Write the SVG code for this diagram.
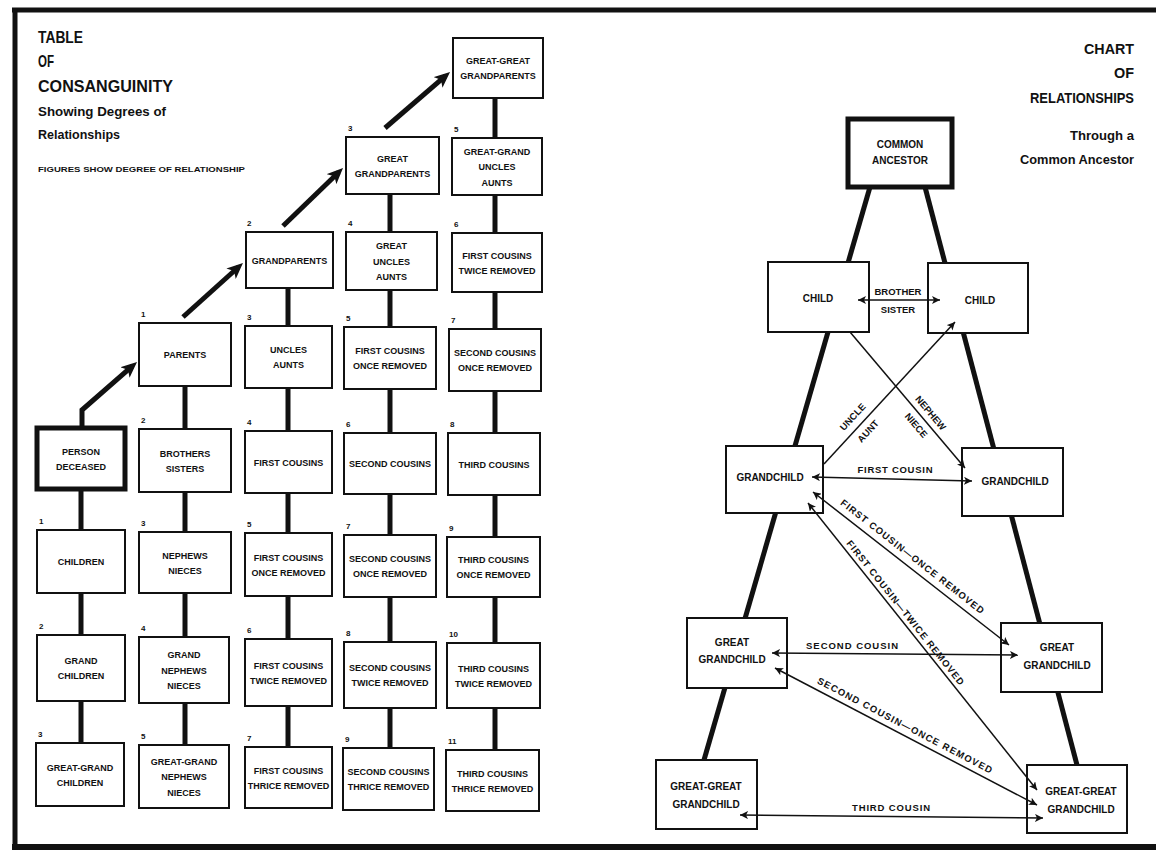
<svg xmlns="http://www.w3.org/2000/svg" width="1156" height="859" viewBox="0 0 1156 859">
<defs>
<style>
.box{fill:#fff;stroke:#111;stroke-width:2}
.heavy{stroke-width:5}
.t{font-family:"Liberation Sans",Arial,sans-serif;font-weight:bold;font-size:9px;text-anchor:middle;fill:#111}
.r{font-size:10px}
.lb{font-size:9.5px}
.n{font-size:8px;text-anchor:start}
.h{font-family:"Liberation Sans",Arial,sans-serif;font-weight:bold;fill:#111}
.bar{stroke:#111;stroke-width:5;fill:none}
.rel{stroke:#111;stroke-width:1.5;fill:none}
.frame{stroke:#111;fill:none}
</style>
<marker id="big" markerUnits="userSpaceOnUse" markerWidth="16" markerHeight="14" refX="10" refY="7" orient="auto">
<path d="M0,0 L16,7 L0,14 L4,7 z" fill="#111"/>
</marker>
<marker id="sm" markerUnits="userSpaceOnUse" markerWidth="8" markerHeight="8" refX="8" refY="4" orient="auto-start-reverse">
<path d="M0,0 L8,4 L0,8 L2,4 z" fill="#111"/>
</marker>
</defs>
<rect x="0" y="0" width="1156" height="859" fill="#fff"/>
<g id="frame">
<line class="frame" x1="12" y1="10" x2="1156" y2="10" stroke-width="5"/>
<line class="frame" x1="15" y1="8" x2="15" y2="850" stroke-width="5"/>
<line class="frame" x1="12" y1="847" x2="1156" y2="847" stroke-width="6"/>
</g>
<g id="titles">
<text class="h" x="38" y="43" font-size="17" textLength="45" lengthAdjust="spacingAndGlyphs">TABLE</text>
<text class="h" x="38" y="67" font-size="17" textLength="16" lengthAdjust="spacingAndGlyphs">OF</text>
<text class="h" x="38" y="92" font-size="17" textLength="135" lengthAdjust="spacingAndGlyphs">CONSANGUINITY</text>
<text class="h" x="38" y="116" font-size="13.5" textLength="128" lengthAdjust="spacingAndGlyphs">Showing Degrees of</text>
<text class="h" x="38" y="139" font-size="13.5" textLength="82" lengthAdjust="spacingAndGlyphs">Relationships</text>
<text class="h" x="38" y="172" font-size="7.5" textLength="207" lengthAdjust="spacingAndGlyphs">FIGURES SHOW DEGREE OF RELATIONSHIP</text>
<text class="h" x="1134" y="54" font-size="15" text-anchor="end" textLength="50" lengthAdjust="spacingAndGlyphs">CHART</text>
<text class="h" x="1134" y="78" font-size="15" text-anchor="end" textLength="20" lengthAdjust="spacingAndGlyphs">OF</text>
<text class="h" x="1134" y="103" font-size="15" text-anchor="end" textLength="104" lengthAdjust="spacingAndGlyphs">RELATIONSHIPS</text>
<text class="h" x="1134" y="140" font-size="13" text-anchor="end" textLength="64" lengthAdjust="spacingAndGlyphs">Through a</text>
<text class="h" x="1134" y="164" font-size="13" text-anchor="end" textLength="114" lengthAdjust="spacingAndGlyphs">Common Ancestor</text>
</g>
<g id="connectors">
<line class="bar" x1="81" y1="489" x2="81" y2="530"/>
<line class="bar" x1="81" y1="593" x2="81" y2="635"/>
<line class="bar" x1="81" y1="701" x2="81" y2="743"/>
<line class="bar" x1="185" y1="386" x2="185" y2="429"/>
<line class="bar" x1="185" y1="492" x2="185" y2="532"/>
<line class="bar" x1="185" y1="593" x2="185" y2="637"/>
<line class="bar" x1="185" y1="703" x2="185" y2="745"/>
<line class="bar" x1="288" y1="288" x2="288" y2="326"/>
<line class="bar" x1="288" y1="388" x2="288" y2="431"/>
<line class="bar" x1="288" y1="493" x2="288" y2="533"/>
<line class="bar" x1="288" y1="596" x2="288" y2="639"/>
<line class="bar" x1="288" y1="706" x2="288" y2="747"/>
<line class="bar" x1="390" y1="194" x2="390" y2="232"/>
<line class="bar" x1="390" y1="290" x2="390" y2="327"/>
<line class="bar" x1="390" y1="389" x2="390" y2="433"/>
<line class="bar" x1="390" y1="494" x2="390" y2="535"/>
<line class="bar" x1="390" y1="597" x2="390" y2="642"/>
<line class="bar" x1="390" y1="708" x2="390" y2="748"/>
<line class="bar" x1="495" y1="98" x2="495" y2="138"/>
<line class="bar" x1="495" y1="195" x2="495" y2="233"/>
<line class="bar" x1="495" y1="292" x2="495" y2="329"/>
<line class="bar" x1="495" y1="391" x2="495" y2="433"/>
<line class="bar" x1="495" y1="495" x2="495" y2="537"/>
<line class="bar" x1="495" y1="597" x2="495" y2="643"/>
<line class="bar" x1="495" y1="708" x2="495" y2="750"/>
<polyline class="bar" points="82,428 82,410 132.5,365.9" marker-end="url(#big)"/>
<line class="bar" x1="183" y1="317" x2="238.5" y2="267" marker-end="url(#big)"/>
<line class="bar" x1="283" y1="226" x2="338.7" y2="172.2" marker-end="url(#big)"/>
<line class="bar" x1="385" y1="128" x2="445.5" y2="75.9" marker-end="url(#big)"/>
<line class="bar" x1="870" y1="187" x2="704" y2="760" stroke-width="5.5"/>
<line class="bar" x1="925" y1="187" x2="1077" y2="765" stroke-width="5.5"/>
</g>
<g id="table-nodes">
<g id="n-person"><rect class="box heavy" x="37" y="428" width="88" height="61"/><text class="t" x="81" y="454.5">PERSON</text><text class="t" x="81" y="469.5">DECEASED</text></g>
<g id="n-children"><text class="t n" x="39" y="524">1</text><rect class="box" x="37" y="530" width="88" height="63"/><text class="t" x="81" y="565">CHILDREN</text></g>
<g id="n-grandchildren"><text class="t n" x="39" y="629">2</text><rect class="box" x="37" y="635" width="88" height="66"/><text class="t" x="81" y="664">GRAND</text><text class="t" x="81" y="679">CHILDREN</text></g>
<g id="n-ggchildren"><text class="t n" x="38" y="737">3</text><rect class="box" x="36" y="743" width="88" height="63"/><text class="t" x="80" y="770.5">GREAT-GRAND</text><text class="t" x="80" y="785.5">CHILDREN</text></g>

<g id="n-parents"><text class="t n" x="141" y="317">1</text><rect class="box" x="139" y="323" width="92" height="63"/><text class="t" x="185" y="358">PARENTS</text></g>
<g id="n-brothers"><text class="t n" x="141" y="423">2</text><rect class="box" x="139" y="429" width="92" height="63"/><text class="t" x="185" y="456.5">BROTHERS</text><text class="t" x="185" y="471.5">SISTERS</text></g>
<g id="n-nephews"><text class="t n" x="141" y="526">3</text><rect class="box" x="139" y="532" width="92" height="61"/><text class="t" x="185" y="558.5">NEPHEWS</text><text class="t" x="185" y="573.5">NIECES</text></g>
<g id="n-grandnephews"><text class="t n" x="141" y="631">4</text><rect class="box" x="139" y="637" width="90" height="66"/><text class="t" x="184" y="658">GRAND</text><text class="t" x="184" y="673.5">NEPHEWS</text><text class="t" x="184" y="689">NIECES</text></g>
<g id="n-ggnephews"><text class="t n" x="141" y="739">5</text><rect class="box" x="139" y="745" width="90" height="63"/><text class="t" x="184" y="764.5">GREAT-GRAND</text><text class="t" x="184" y="780">NEPHEWS</text><text class="t" x="184" y="795.5">NIECES</text></g>

<g id="n-grandparents"><text class="t n" x="247" y="226">2</text><rect class="box" x="246" y="232" width="87" height="56"/><text class="t" x="289.5" y="263.5">GRANDPARENTS</text></g>
<g id="n-uncles"><text class="t n" x="247" y="320">3</text><rect class="box" x="245" y="326" width="87" height="62"/><text class="t" x="288.5" y="353">UNCLES</text><text class="t" x="288.5" y="368">AUNTS</text></g>
<g id="n-fc"><text class="t n" x="247" y="425">4</text><rect class="box" x="245" y="431" width="87" height="62"/><text class="t" x="288.5" y="465.5">FIRST COUSINS</text></g>
<g id="n-fcor"><text class="t n" x="247" y="527">5</text><rect class="box" x="245" y="533" width="87" height="63"/><text class="t" x="288.5" y="560.5">FIRST COUSINS</text><text class="t" x="288.5" y="575.5">ONCE REMOVED</text></g>
<g id="n-fctr"><text class="t n" x="247" y="633">6</text><rect class="box" x="245" y="639" width="87" height="67"/><text class="t" x="288.5" y="668.5">FIRST COUSINS</text><text class="t" x="288.5" y="683.5">TWICE REMOVED</text></g>
<g id="n-fcthr"><text class="t n" x="247" y="741">7</text><rect class="box" x="245" y="747" width="87" height="61"/><text class="t" x="288.5" y="773.5">FIRST COUSINS</text><text class="t" x="288.5" y="788.5">THRICE REMOVED</text></g>

<g id="n-ggp"><text class="t n" x="348" y="131">3</text><rect class="box" x="346" y="137" width="93" height="57"/><text class="t" x="392.5" y="161.5">GREAT</text><text class="t" x="392.5" y="176.5">GRANDPARENTS</text></g>
<g id="n-greatuncles"><text class="t n" x="348" y="226">4</text><rect class="box" x="346" y="232" width="91" height="58"/><text class="t" x="391.5" y="249">GREAT</text><text class="t" x="391.5" y="264.5">UNCLES</text><text class="t" x="391.5" y="280">AUNTS</text></g>
<g id="n-fcor2"><text class="t n" x="346" y="321">5</text><rect class="box" x="344" y="327" width="92" height="62"/><text class="t" x="390" y="354">FIRST COUSINS</text><text class="t" x="390" y="369">ONCE REMOVED</text></g>
<g id="n-sc"><text class="t n" x="346" y="427">6</text><rect class="box" x="344" y="433" width="92" height="61"/><text class="t" x="390" y="467">SECOND COUSINS</text></g>
<g id="n-scor"><text class="t n" x="346" y="529">7</text><rect class="box" x="344" y="535" width="92" height="62"/><text class="t" x="390" y="562">SECOND COUSINS</text><text class="t" x="390" y="577">ONCE REMOVED</text></g>
<g id="n-sctr"><text class="t n" x="346" y="636">8</text><rect class="box" x="344" y="642" width="92" height="66"/><text class="t" x="390" y="671">SECOND COUSINS</text><text class="t" x="390" y="686">TWICE REMOVED</text></g>
<g id="n-scthr"><text class="t n" x="345" y="742">9</text><rect class="box" x="343" y="748" width="91" height="62"/><text class="t" x="388.5" y="775">SECOND COUSINS</text><text class="t" x="388.5" y="790">THRICE REMOVED</text></g>

<g id="n-gggp"><rect class="box" x="453" y="38" width="90" height="60"/><text class="t" x="498" y="64">GREAT-GREAT</text><text class="t" x="498" y="79">GRANDPARENTS</text></g>
<g id="n-gguncles"><text class="t n" x="454" y="132">5</text><rect class="box" x="452" y="138" width="90" height="57"/><text class="t" x="497" y="154.5">GREAT-GRAND</text><text class="t" x="497" y="170">UNCLES</text><text class="t" x="497" y="185.5">AUNTS</text></g>
<g id="n-fctr2"><text class="t n" x="454" y="227">6</text><rect class="box" x="452" y="233" width="90" height="59"/><text class="t" x="497" y="258.5">FIRST COUSINS</text><text class="t" x="497" y="273.5">TWICE REMOVED</text></g>
<g id="n-scor2"><text class="t n" x="451" y="323">7</text><rect class="box" x="449" y="329" width="92" height="62"/><text class="t" x="495" y="356">SECOND COUSINS</text><text class="t" x="495" y="371">ONCE REMOVED</text></g>
<g id="n-tc"><text class="t n" x="450" y="427">8</text><rect class="box" x="448" y="433" width="92" height="62"/><text class="t" x="494" y="467.5">THIRD COUSINS</text></g>
<g id="n-tcor"><text class="t n" x="449" y="531">9</text><rect class="box" x="447" y="537" width="93" height="60"/><text class="t" x="493.5" y="563">THIRD COUSINS</text><text class="t" x="493.5" y="578">ONCE REMOVED</text></g>
<g id="n-tctr"><text class="t n" x="449" y="637">10</text><rect class="box" x="447" y="643" width="93" height="65"/><text class="t" x="493.5" y="671.5">THIRD COUSINS</text><text class="t" x="493.5" y="686.5">TWICE REMOVED</text></g>
<g id="n-tcthr"><text class="t n" x="448" y="744">11</text><rect class="box" x="446" y="750" width="93" height="61"/><text class="t" x="492.5" y="776.5">THIRD COUSINS</text><text class="t" x="492.5" y="791.5">THRICE REMOVED</text></g>
</g>
<g id="chart-nodes">
<g id="c-ancestor"><rect class="box heavy" x="848" y="119" width="104" height="68"/><text class="t r" x="900" y="148">COMMON</text><text class="t r" x="900" y="164">ANCESTOR</text></g>
<g id="c-child-l"><rect class="box" x="768" y="262" width="101" height="70"/><text class="t r" x="818" y="302">CHILD</text></g>
<g id="c-child-r"><rect class="box" x="928" y="263" width="100" height="70"/><text class="t r" x="980" y="304">CHILD</text></g>
<g id="c-gc-l"><rect class="box" x="726" y="446" width="97" height="67"/><text class="t r" x="770" y="481">GRANDCHILD</text></g>
<g id="c-gc-r"><rect class="box" x="962" y="448" width="101" height="68"/><text class="t r" x="1015" y="485">GRANDCHILD</text></g>
<g id="c-ggc-l"><rect class="box" x="687" y="618" width="100" height="70"/><text class="t r" x="732" y="646">GREAT</text><text class="t r" x="732" y="663">GRANDCHILD</text></g>
<g id="c-ggc-r"><rect class="box" x="1001" y="623" width="101" height="69"/><text class="t r" x="1057" y="651">GREAT</text><text class="t r" x="1057" y="669">GRANDCHILD</text></g>
<g id="c-gggc-l"><rect class="box" x="656" y="760" width="101" height="69"/><text class="t r" x="706" y="790">GREAT-GREAT</text><text class="t r" x="706" y="808">GRANDCHILD</text></g>
<g id="c-gggc-r"><rect class="box" x="1027" y="765" width="100" height="68"/><text class="t r" x="1081" y="795">GREAT-GREAT</text><text class="t r" x="1081" y="813">GRANDCHILD</text></g>
</g>
<g id="relations">
<line class="rel" x1="858" y1="300" x2="940" y2="300" marker-start="url(#sm)" marker-end="url(#sm)"/>
<line class="rel" x1="824" y1="464" x2="955" y2="322" marker-end="url(#sm)"/>
<line class="rel" x1="850" y1="332" x2="965" y2="468" marker-end="url(#sm)"/>
<line class="rel" x1="812" y1="477" x2="972" y2="481" marker-start="url(#sm)" marker-end="url(#sm)"/>
<line class="rel" x1="813" y1="492" x2="1009" y2="645" marker-start="url(#sm)" marker-end="url(#sm)"/>
<line class="rel" x1="808" y1="503" x2="1037" y2="790" marker-start="url(#sm)" marker-end="url(#sm)"/>
<line class="rel" x1="772" y1="653" x2="1018" y2="655" marker-start="url(#sm)" marker-end="url(#sm)"/>
<line class="rel" x1="775" y1="668" x2="1037" y2="805" marker-start="url(#sm)" marker-end="url(#sm)"/>
<line class="rel" x1="740" y1="815" x2="1043" y2="818" marker-start="url(#sm)" marker-end="url(#sm)"/>
</g>
<g id="relation-labels">
<text class="t lb" x="898" y="295">BROTHER</text>
<text class="t lb" x="898" y="313">SISTER</text>
<g transform="translate(860.6,424.3) rotate(-47.3)"><text class="t lb" x="0" y="-7.5">UNCLE</text><text class="t lb" x="0" y="13.5">AUNT</text></g>
<g transform="translate(923.6,419.1) rotate(49.8)"><text class="t lb" x="0" y="-6">NEPHEW</text><text class="t lb" x="0" y="13">NIECE</text></g>
<text class="t lb" x="895" y="473" textLength="75" lengthAdjust="spacing">FIRST COUSIN</text>
<g transform="translate(906,564.6) rotate(38)"><text class="t lb" x="0" y="-7" textLength="179" lengthAdjust="spacing">FIRST COUSIN—ONCE REMOVED</text></g>
<g transform="translate(899.3,617.5) rotate(51.4)"><text class="t lb" x="0" y="-4.5" textLength="182" lengthAdjust="spacing">FIRST COUSIN—TWICE REMOVED</text></g>
<text class="t lb" x="852" y="649" textLength="92" lengthAdjust="spacing">SECOND COUSIN</text>
<g transform="translate(900.5,733.6) rotate(27.6)"><text class="t lb" x="0" y="-6" textLength="196" lengthAdjust="spacing">SECOND COUSIN—ONCE REMOVED</text></g>
<text class="t lb" x="891" y="811" textLength="78" lengthAdjust="spacing">THIRD COUSIN</text>
</g>
</svg>
